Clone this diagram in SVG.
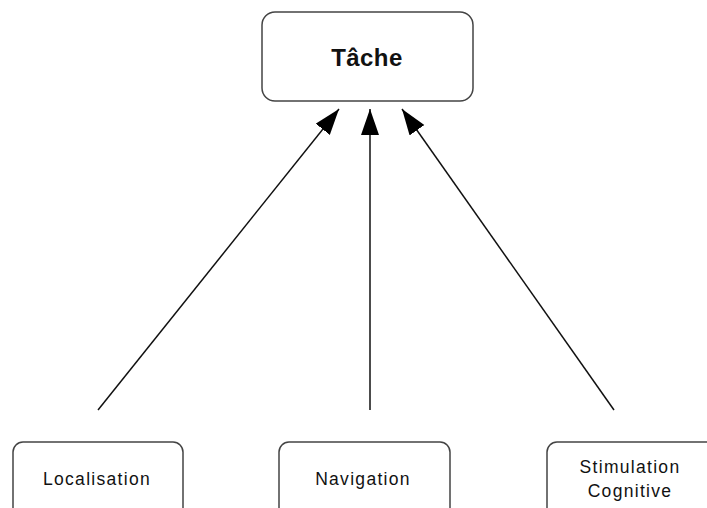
<svg xmlns="http://www.w3.org/2000/svg" width="707" height="508" viewBox="0 0 707 508">
<style>
.box{fill:#fff;stroke:#444;stroke-width:1.5}
.t{font-family:"Liberation Sans",Arial,sans-serif;font-size:17.5px;letter-spacing:1.3px;fill:#111;text-anchor:middle}
.tb{font-family:"Liberation Sans",Arial,sans-serif;font-size:24px;font-weight:bold;letter-spacing:0.4px;fill:#111;text-anchor:middle}
.c{stroke:#111;stroke-width:1.5;fill:none;marker-end:url(#ah)}
</style>
<defs>
<marker id="ah" markerUnits="userSpaceOnUse" markerWidth="28" markerHeight="20" refX="26" refY="9" orient="auto">
<path d="M0,0 L26,9 L0,18 Z" fill="#000"/>
</marker>
</defs>
<rect width="707" height="508" fill="#fff"/>
<g id="connectors">
<line class="c" x1="98" y1="410" x2="339" y2="109"/>
<line class="c" x1="370" y1="410" x2="370" y2="109"/>
<line class="c" x1="614" y1="410" x2="402" y2="109"/>
</g>
<g id="tache">
<rect class="box" x="262" y="12" width="211" height="89" rx="13"/>
<text class="tb" x="367" y="66">Tâche</text>
</g>
<g id="localisation">
<rect class="box" x="13" y="442" width="170" height="90" rx="10"/>
<text class="t" x="97" y="485">Localisation</text>
</g>
<g id="navigation">
<rect class="box" x="279" y="442" width="171" height="90" rx="10"/>
<text class="t" x="363" y="485">Navigation</text>
</g>
<g id="stimulation">
<rect class="box" x="547" y="442" width="170" height="90" rx="10"/>
<text class="t" x="630" y="473">Stimulation</text>
<text class="t" x="630" y="497">Cognitive</text>
</g>
</svg>
